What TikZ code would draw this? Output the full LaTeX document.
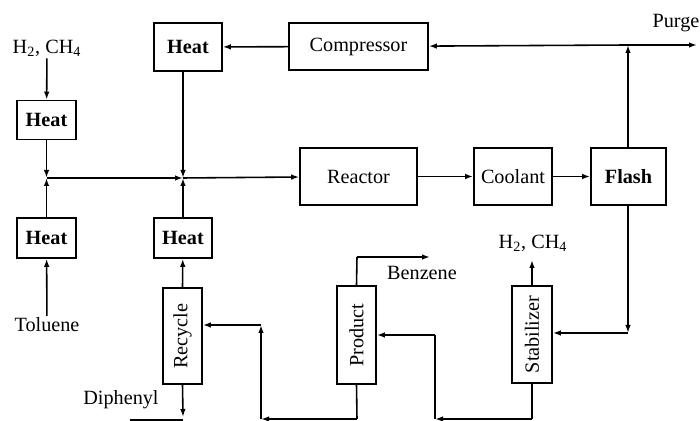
\documentclass[tikz,border=0pt]{standalone}
\usepackage{fontspec}
\setmainfont{Liberation Serif}
\usepackage{tikz}
\usetikzlibrary{arrows.meta, positioning, calc}

\begin{document}
\begin{tikzpicture}[x=0.02cm, y=-0.02cm,
        unit/.style={draw, line width=0.9pt, inner sep=0pt, font=\fontsize{11.5}{13}\selectfont},
        boldunit/.style={unit, font=\fontsize{11.5}{13}\selectfont\bfseries},
        flow/.style={line width=0.9pt, -{Latex[length=1.6mm, width=1.1mm]}},
        pipe/.style={line width=0.9pt},
        lbl/.style={inner sep=1pt, font=\fontsize{11.5}{13}\selectfont}]
        \useasboundingbox (0,0) rectangle (700,421);

        % Heaters
        \node[boldunit, minimum width=1.18cm, minimum height=0.78cm] (heatA) at (46.5,120) {Heat};
        \node[boldunit, minimum width=1.18cm, minimum height=0.80cm] (heatB) at (46.5,238) {Heat};
        \node[boldunit, minimum width=1.36cm, minimum height=0.96cm] (heatC) at (188,47) {Heat};
        \node[boldunit, minimum width=1.16cm, minimum height=0.80cm] (heatD) at (183,238) {Heat};

        % Main train
        \node[unit, minimum width=2.78cm, minimum height=0.94cm] (compressor) at (358.5,46.5) {Compressor};
        \node[unit, minimum width=2.34cm, minimum height=1.14cm] (reactor) at (358.5,176.5) {Reactor};
        \node[unit, minimum width=1.56cm, minimum height=1.14cm] (coolant) at (513,176.5) {Coolant};
        \node[boldunit, minimum width=1.50cm, minimum height=1.14cm] (flash) at (628.5,176.5) {Flash};

        % Columns (rotated: west = bottom, east = top, south = right side)
        \node[unit, minimum width=1.92cm, minimum height=0.78cm, rotate=90] (recycle) at (182.5,336) {Recycle};
        \node[unit, minimum width=1.96cm, minimum height=0.78cm, rotate=90] (product) at (356.5,335) {Product};
        \node[unit, minimum width=1.94cm, minimum height=0.80cm, rotate=90] (stabilizer) at (532,334.5) {Stabilizer};

        % Stream labels
        \node[lbl] (gasIn) at (47,48) {H\textsubscript{2}, CH\textsubscript{4}};
        \node[lbl] (toluene) at (47,325) {Toluene};
        \node[lbl] (purge) at (676,23) {Purge};
        \node[lbl] (benzene) at (422,273) {Benzene};
        \node[lbl] (gasOut) at (533,243) {H\textsubscript{2}, CH\textsubscript{4}};
        \node[lbl] (diphenyl) at (121,400) {Diphenyl};

        \coordinate (jA) at (46.5,178);
        \coordinate (jB) at (183,178);
        \coordinate (pj) at (628,45);
        \coordinate (purgeEnd) at (697,45);

        % Feeds and mixing
        \draw[flow] (gasIn) -- (heatA);
        \draw[flow] (toluene) -- (heatB);
        \draw[flow] (heatA) -- (jA);
        \draw[flow] (heatB) -- (jA);
        \draw[flow] (jA) -- (jB);
        \draw[flow] (heatC.south -| jB) -- (jB);
        \draw[flow] (heatD.north -| jB) -- (jB);
        \draw[flow] (jB) -- (reactor);
        \draw[flow] (reactor) -- (coolant);
        \draw[flow] (coolant) -- (flash);

        % Gas recycle and purge
        \draw[flow] (flash.north -| pj) -- (pj);
        \draw[flow] (pj) -- (compressor);
        \draw[flow] (pj) -- (purgeEnd);
        \draw[flow] (compressor) -- (heatC);

        % Liquid train
        \coordinate (fB) at (628,333);
        \draw[flow] (flash.south -| fB) -- (fB);
        \draw[flow] (fB) -- (fB -| stabilizer.south);
        \draw[flow] (stabilizer.east) -- (stabilizer.east |- 0,260) coordinate (sT);

        \coordinate (sB) at (532,419);
        \coordinate (sC) at (435,419);
        \coordinate (sD) at (435,335);
        \draw[pipe] (stabilizer.west) -- (sB);
        \draw[flow] (sB) -- (sC);
        \draw[pipe] (sC) -- (sD);
        \draw[flow] (sD) -- (sD -| product.south);

        \coordinate (pT) at (357,257);
        \coordinate (pE) at (430,257);
        \draw[pipe] (product.east) -- (pT);
        \draw[flow] (pT) -- (pE);

        \coordinate (pB) at (357,419);
        \coordinate (rB) at (261,419);
        \coordinate (rC) at (261,325);
        \draw[pipe] (product.west) -- (pB);
        \draw[flow] (pB) -- (rB);
        \draw[flow] (rB) -- (rC);
        \draw[flow] (rC) -- (rC -| recycle.south);

        \draw[flow] (recycle.east) -- (heatD);
        \coordinate (dA) at (183,417);
        \coordinate (dB) at (130,420);
        \draw[flow] (recycle.west) -- (dA);
        \draw[pipe] (dA |- dB) -- (dB);
\end{tikzpicture}
\end{document}
